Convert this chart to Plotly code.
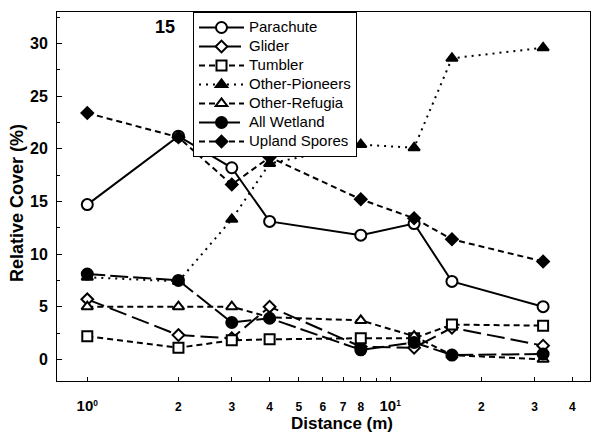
import plotly.graph_objects as go

# ---- data ----
distance = [1, 2, 3, 4, 8, 12, 16, 32]
parachute = [14.7, 21.2, 18.2, 13.1, 11.8, 12.9, 7.4, 5.0]
glider = [5.7, 2.3, 2.0, 5.0, 1.2, 1.1, 3.0, 1.3]
tumbler = [2.2, 1.1, 1.8, 1.9, 2.0, 2.0, 3.3, 3.2]
other_pioneers = [7.8, 7.4, 13.3, 18.6, 20.4, 20.1, 28.6, 29.6]
other_refugia = [5.0, 5.0, 5.0, 4.0, 3.7, 2.2, 0.4, 0.0]
all_wetland = [8.1, 7.5, 3.5, 3.9, 0.9, 1.6, 0.4, 0.5]
upland_spores = [23.4, 21.1, 16.6, 19.2, 15.2, 13.4, 11.4, 9.3]

x_tickvals = [1, 2, 3, 4, 5, 6, 7, 8, 10, 20, 30, 40]
x_ticktext = ['<span style="font-size:15px">10</span><sup>0</sup>',
              "2", "3", "4", "5", "6", "7", "8",
              '<span style="font-size:15px">10</span><sup>1</sup>',
              "2", "3", "4"]
x_minor_tickvals = [9]
y_tickvals = [0, 5, 10, 15, 20, 25, 30]

FONT = "Liberation Sans, Arial, sans-serif"

series = [
    ("Parachute", parachute, "circle", "white", "solid"),
    ("Glider", glider, "diamond", "white", "18px,6px"),
    ("Tumbler", tumbler, "square", "white", "6px,4px"),
    ("Other-Pioneers", other_pioneers, "triangle-up", "black", "2px,5px"),
    ("Other-Refugia", other_refugia, "triangle-up", "white", "6px,4px"),
    ("All Wetland", all_wetland, "circle", "black", "18px,5px"),
    ("Upland Spores", upland_spores, "diamond", "black", "6px,4px"),
]
sizes = {"circle": 11, "diamond": 9, "square": 10, "triangle-up": 10}

fig = go.Figure()
for name, vals, sym, fill, dash in series:
    fig.add_trace(go.Scatter(
        x=distance, y=vals, mode="lines+markers",
        name='<span style="font-size:15px">' + name + '</span>',
        line=dict(color="black", width=2, dash=dash),
        marker=dict(symbol=sym, size=sizes[sym], color=fill,
                    line=dict(color="black", width=2)),
    ))

fig.update_layout(
    width=592, height=438,
    margin=dict(l=57, r=2, t=12, b=57),
    paper_bgcolor="white", plot_bgcolor="white",
    font=dict(family=FONT, color="black"),
    showlegend=True,
    legend=dict(
        x=(193 - 57) / 533, y=1.0, xanchor="left", yanchor="top",
        bgcolor="white", bordercolor="black", borderwidth=1,
        font=dict(size=12, family=FONT, color="black"),
        itemwidth=45,
    ),
    xaxis=dict(
        type="log", range=[-0.1, 1.66],
        tickmode="array", tickvals=x_tickvals, ticktext=x_ticktext,
        ticks="inside", ticklen=4, tickwidth=1, tickcolor="black",
        minor=dict(tickvals=x_minor_tickvals, ticks="inside", ticklen=3,
                   tickcolor="black"),
        tickfont=dict(size=12, family=FONT, weight="bold"),
        ticklabelstandoff=15,
        showline=True, linecolor="black", linewidth=1, mirror=True,
        showgrid=False, zeroline=False,
    ),
    yaxis=dict(
        range=[-2.06, 33.0],
        tickmode="array", tickvals=y_tickvals,
        ticks="inside", ticklen=5, tickwidth=1, tickcolor="black",
        minor=dict(dtick=2.5, ticks="inside", ticklen=3, tickcolor="black"),
        tickfont=dict(size=16, family=FONT, weight="bold"),
        ticklabelstandoff=5,
        showline=True, linecolor="black", linewidth=1, mirror=True,
        showgrid=False, zeroline=False,
    ),
    annotations=[
        dict(text="Relative Cover (%)", xref="paper", yref="paper",
             x=(17 - 57) / 533, y=(381 - 203) / 369, textangle=-90,
             showarrow=False, xanchor="center", yanchor="middle",
             font=dict(size=18, family=FONT, weight="bold")),
        dict(text="Distance (m)", xref="paper", yref="paper",
             x=(342 - 57) / 533, y=(381 - 423) / 369,
             showarrow=False, xanchor="center", yanchor="middle",
             font=dict(size=17, family=FONT, weight="bold")),
        dict(text="15", xref="paper", yref="paper",
             x=(165 - 57) / 533, y=(381 - 27) / 369,
             showarrow=False, xanchor="center", yanchor="middle",
             font=dict(size=18, family=FONT, weight="bold")),
    ],
)

fig.write_html("out.html")
